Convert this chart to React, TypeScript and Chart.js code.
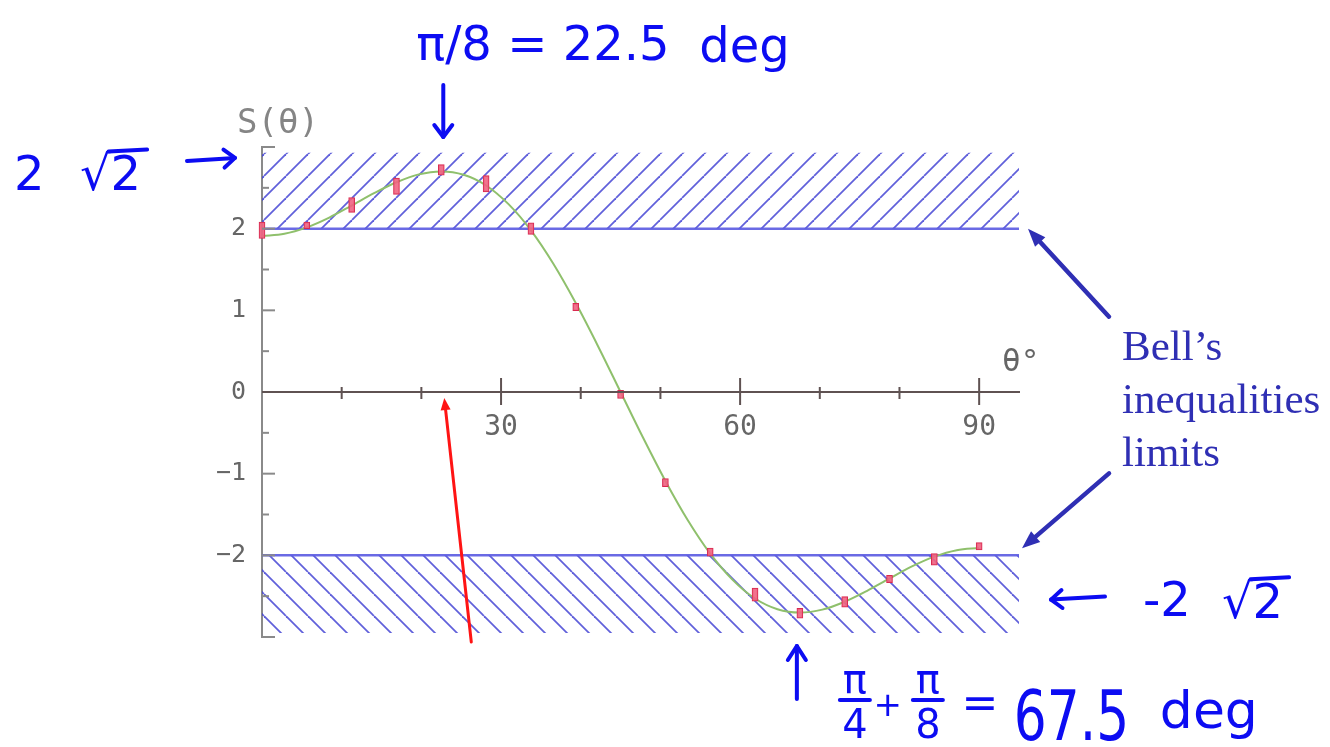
import React, { useEffect, useRef } from 'react';
import { Chart, registerables } from 'chart.js';

Chart.register(...registerables);

// ---------------- data ----------------
const ANGLES = [0, 5.625, 11.25, 16.875, 22.5, 28.125, 33.75, 39.375, 45, 50.625, 56.25, 61.875, 67.5, 73.125, 78.75, 84.375, 90];
const S_MEASURED = [1.98, 2.04, 2.29, 2.52, 2.72, 2.55, 2.0, 1.04, -0.03, -1.11, -1.96, -2.48, -2.71, -2.57, -2.29, -2.05, -1.89];
const S_ERROR = [0.1, 0.04, 0.09, 0.1, 0.065, 0.1, 0.07, 0.045, 0.05, 0.05, 0.05, 0.08, 0.06, 0.065, 0.045, 0.07, 0.045];

const CURVE_ANGLES = [0, 2.8125, 5.625, 8.4375, 11.25, 14.0625, 16.875, 19.6875, 22.5, 25.3125, 28.125, 30.9375, 33.75, 36.5625, 39.375, 42.1875, 45,
  47.8125, 50.625, 53.4375, 56.25, 59.0625, 61.875, 64.6875, 67.5, 70.3125, 73.125, 75.9375, 78.75, 81.5625, 84.375, 87.1875, 90];
const CURVE_S = [1.91, 1.937, 2.016, 2.136, 2.283, 2.434, 2.568, 2.665, 2.701, 2.66, 2.529, 2.3, 1.979, 1.57, 1.089, 0.558, 0,
  -0.558, -1.089, -1.57, -1.979, -2.3, -2.529, -2.66, -2.701, -2.665, -2.568, -2.434, -2.283, -2.136, -2.016, -1.937, -1.91];

const LIMIT_ANGLES = [0, 95];
const LIMIT_UPPER = [2, 2];
const LIMIT_LOWER = [-2, -2];
const HATCH_TOP = 2.93;
const HATCH_BOTTOM = -2.95;

const X_MIN = 0;
const X_MAX = 95;
const Y_MIN = -3;
const Y_MAX = 3;
const X_LABELED = [30, 60, 90];
const Y_LABELED = [-2, -1, 0, 1, 2];

// ---------------- styles ----------------
const AXIS_X_COLOR = '#5f5252';
const AXIS_Y_COLOR = '#8a8a8a';
const TICK_TEXT = '#666666';
const HATCH_COLOR = 'rgba(68,68,212,0.85)';
const LIMIT_COLOR = 'rgba(90,90,225,0.9)';
const CURVE_COLOR = '#8fc06c';
const INK = '#0c0cf2';
const BELL_COLOR = '#2f2fb4';
const MONO = '"DejaVu Sans Mono", "Liberation Mono", monospace';
const HAND = '"DejaVu Sans", "Noto Sans", sans-serif';

function makeHatch(ctx: CanvasRenderingContext2D, dir: 1 | -1): CanvasPattern | string {
  const s = 22;
  const c = document.createElement('canvas');
  c.width = s;
  c.height = s;
  const g = c.getContext('2d');
  if (!g) return HATCH_COLOR;
  g.strokeStyle = HATCH_COLOR;
  g.lineWidth = 1.8;
  for (const k of [-1, 0, 1]) {
    g.beginPath();
    if (dir === 1) {
      g.moveTo(k * s, s);
      g.lineTo(k * s + s, 0);
    } else {
      g.moveTo(k * s, 0);
      g.lineTo(k * s + s, s);
    }
    g.stroke();
  }
  return ctx.createPattern(c, 'repeat') || HATCH_COLOR;
}

function line(ctx: CanvasRenderingContext2D, x1: number, y1: number, x2: number, y2: number) {
  ctx.beginPath();
  ctx.moveTo(x1, y1);
  ctx.lineTo(x2, y2);
  ctx.stroke();
}

function arrow(ctx: CanvasRenderingContext2D, x1: number, y1: number, x2: number, y2: number,
  color: string, width: number, len: number, half: number, filled: boolean) {
  const a = Math.atan2(y2 - y1, x2 - x1);
  const bx = x2 - len * Math.cos(a);
  const by = y2 - len * Math.sin(a);
  const px = -Math.sin(a) * half;
  const py = Math.cos(a) * half;
  ctx.strokeStyle = color;
  ctx.fillStyle = color;
  ctx.lineWidth = width;
  ctx.lineCap = 'round';
  ctx.lineJoin = 'round';
  line(ctx, x1, y1, filled ? bx : x2, filled ? by : y2);
  ctx.beginPath();
  ctx.moveTo(bx + px, by + py);
  ctx.lineTo(x2, y2);
  ctx.lineTo(bx - px, by - py);
  if (filled) {
    ctx.closePath();
    ctx.fill();
  } else {
    ctx.stroke();
  }
}

function sqrtText(ctx: CanvasRenderingContext2D, x: number, y: number, size: number) {
  ctx.font = `${size}px ${HAND}`;
  ctx.textAlign = 'left';
  ctx.textBaseline = 'alphabetic';
  ctx.fillText('√2', x, y);
  const wr = ctx.measureText('√').width;
  const w2 = ctx.measureText('2').width;
  ctx.lineWidth = 4;
  ctx.lineCap = 'round';
  line(ctx, x + wr - 2, y - size * 0.8, x + wr + w2 + 6, y - size * 0.84);
}

function frac(ctx: CanvasRenderingContext2D, top: string, bottom: string, cx: number, barY: number, size: number) {
  ctx.font = `${size}px ${HAND}`;
  ctx.textAlign = 'center';
  ctx.textBaseline = 'alphabetic';
  ctx.fillText(top, cx, barY - 7);
  ctx.lineWidth = 4;
  line(ctx, cx - 15, barY, cx + 15, barY);
  ctx.fillText(bottom, cx, barY + size * 0.95);
}

const decorPlugin = {
  id: 'decor',
  afterDraw(chart: any) {
    const { ctx, chartArea, scales } = chart;
    const xs = scales.x;
    const ys = scales.y;
    ctx.save();

    // inward y ticks
    ctx.strokeStyle = AXIS_Y_COLOR;
    ctx.lineWidth = 2;
    ys.ticks.forEach((t: any) => {
      const py = ys.getPixelForValue(t.value);
      const major = Number.isInteger(t.value);
      line(ctx, chartArea.left, py, chartArea.left + (major ? 13 : 7), py);
    });

    // crossing x ticks
    const y0 = ys.getPixelForValue(0);
    ctx.strokeStyle = AXIS_X_COLOR;
    ctx.lineWidth = 2;
    line(ctx, chartArea.left, y0, chartArea.right, y0);
    xs.ticks.forEach((t: any) => {
      if (t.value === 0) return;
      const px = xs.getPixelForValue(t.value);
      const major = X_LABELED.includes(t.value);
      line(ctx, px, y0 - (major ? 14 : 5), px, y0 + (major ? 13 : 7));
    });

    // axis titles
    ctx.fillStyle = '#858585';
    ctx.font = `34px ${MONO}`;
    ctx.textAlign = 'left';
    ctx.textBaseline = 'alphabetic';
    ctx.fillText('S(θ)', chartArea.left - 25, chartArea.top - 14);
    ctx.fillStyle = TICK_TEXT;
    ctx.font = `31px ${MONO}`;
    ctx.fillText('θ°', chartArea.right - 17, y0 - 21);

    // Bell's text and arrows
    ctx.fillStyle = BELL_COLOR;
    ctx.font = `43px "Liberation Serif", "DejaVu Serif", serif`;
    const bx = chartArea.right + 103;
    ctx.fillText('Bell’s', bx, y0 - 32);
    ctx.fillText('inequalities', bx, y0 + 21);
    ctx.fillText('limits', bx, y0 + 74);
    const yTop = ys.getPixelForValue(2);
    const yBot = ys.getPixelForValue(-2);
    arrow(ctx, chartArea.right + 90, yTop + 88, chartArea.right + 9, yTop, BELL_COLOR, 4.5, 18, 7, true);
    arrow(ctx, chartArea.right + 90, yBot - 82, chartArea.right + 3, yBot - 7, BELL_COLOR, 4.5, 18, 7, true);

    // red arrow to 22.5 deg on the axis
    const x225 = xs.getPixelForValue(22.5);
    arrow(ctx, x225 + 30, chartArea.bottom + 5, x225 + 3, y0 + 6, '#ff1414', 3, 12, 5, true);

    // handwritten notes
    ctx.fillStyle = INK;
    ctx.strokeStyle = INK;
    ctx.font = `48px ${HAND}`;
    ctx.textAlign = 'left';
    ctx.fillText('π/8 = 22.5', x225 - 25, 60);
    ctx.fillText('deg', x225 + 258, 62);
    arrow(ctx, x225 + 2, chartArea.top - 62, x225 + 2, chartArea.top - 10, INK, 4, 12, 9, false);

    // 2√2 -->
    const y283 = ys.getPixelForValue(2.83);
    ctx.font = `48px ${HAND}`;
    ctx.fillText('2', 14, y283 + 29);
    sqrtText(ctx, 80, y283 + 29, 48);
    arrow(ctx, chartArea.left - 75, y283, chartArea.left - 27, y283 - 3, INK, 4, 11, 9, false);

    // <-- -2√2
    const yNeg = ys.getPixelForValue(-2.53);
    arrow(ctx, chartArea.right + 86, yNeg - 2, chartArea.right + 32, yNeg + 1, INK, 4, 11, 9, false);
    ctx.font = `48px ${HAND}`;
    ctx.textAlign = 'left';
    ctx.fillText('-2', chartArea.right + 124, yNeg + 17);
    sqrtText(ctx, chartArea.right + 203, yNeg + 19, 48);

    // up arrow at 67.5 and formula
    const x675 = xs.getPixelForValue(67.5);
    arrow(ctx, x675 - 3, chartArea.bottom + 62, x675 - 3, chartArea.bottom + 9, INK, 4, 14, 9, false);
    frac(ctx, 'π', '4', x675 + 55, 700, 40);
    ctx.font = `34px ${HAND}`;
    ctx.textAlign = 'center';
    ctx.fillText('+', x675 + 88, 716);
    frac(ctx, 'π', '8', x675 + 128, 700, 40);
    ctx.font = `44px ${HAND}`;
    ctx.fillText('=', x675 + 180, 718);
    ctx.save();
    ctx.translate(x675 + 214, 740);
    ctx.scale(0.74, 1);
    ctx.font = `70px ${HAND}`;
    ctx.textAlign = 'left';
    ctx.fillText('67.5', 0, 0);
    ctx.restore();
    ctx.font = `52px ${HAND}`;
    ctx.textAlign = 'left';
    ctx.fillText('deg', x675 + 360, 728);

    ctx.restore();
  },
};

export default function App() {
  const canvasRef = useRef<HTMLCanvasElement | null>(null);

  useEffect(() => {
    const canvas = canvasRef.current;
    if (!canvas) return;
    const ctx = canvas.getContext('2d');
    if (!ctx) return;

    const hatchUp = makeHatch(ctx, 1);
    const hatchDown = makeHatch(ctx, -1);

    const errorBars = ANGLES.map((a, i) => ({ x: a, y: [S_MEASURED[i] - S_ERROR[i], S_MEASURED[i] + S_ERROR[i]] }));
    const curve = CURVE_ANGLES.map((a, i) => ({ x: a, y: CURVE_S[i] }));
    const upper = LIMIT_ANGLES.map((a, i) => ({ x: a, y: LIMIT_UPPER[i] }));
    const lower = LIMIT_ANGLES.map((a, i) => ({ x: a, y: LIMIT_LOWER[i] }));

    const chart = new Chart(ctx, {
      type: 'line',
      data: {
        datasets: [
          {
            type: 'bar',
            label: 'measured',
            data: errorBars as any,
            backgroundColor: 'rgba(240,100,130,0.9)',
            borderColor: '#d82a50',
            borderWidth: 1,
            borderSkipped: false,
            barThickness: 6,
            order: 0,
            clip: false as any,
          },
          {
            type: 'line',
            label: 'curve',
            data: curve as any,
            borderColor: CURVE_COLOR,
            borderWidth: 2,
            pointRadius: 0,
            cubicInterpolationMode: 'monotone',
            fill: false,
            order: 1,
          },
          {
            type: 'line',
            label: 'upper limit',
            data: upper as any,
            borderColor: LIMIT_COLOR,
            borderWidth: 2.5,
            pointRadius: 0,
            fill: { value: HATCH_TOP } as any,
            backgroundColor: hatchUp as any,
            order: 2,
          },
          {
            type: 'line',
            label: 'lower limit',
            data: lower as any,
            borderColor: LIMIT_COLOR,
            borderWidth: 2.5,
            pointRadius: 0,
            fill: { value: HATCH_BOTTOM } as any,
            backgroundColor: hatchDown as any,
            order: 2,
          },
        ],
      },
      options: {
        responsive: false,
        animation: false,
        devicePixelRatio: 1,
        events: [],
        layout: { padding: { left: 0, top: 147, right: 311, bottom: 110 } },
        plugins: {
          legend: { display: false },
          tooltip: { enabled: false },
        },
        scales: {
          x: {
            type: 'linear',
            position: { y: 0 } as any,
            min: X_MIN,
            max: X_MAX,
            offset: false,
            grid: { display: false, drawTicks: false },
            border: { display: true, color: AXIS_X_COLOR, width: 2 },
            ticks: {
              stepSize: 10,
              includeBounds: false,
              autoSkip: false,
              maxRotation: 0,
              padding: 19,
              color: TICK_TEXT,
              font: { family: MONO, size: 28 },
              callback: (v: any) => (X_LABELED.includes(Number(v)) ? String(v) : ''),
            },
          },
          y: {
            type: 'linear',
            position: 'left',
            min: Y_MIN,
            max: Y_MAX,
            beginAtZero: false,
            grid: { display: false, drawTicks: false },
            border: { display: true, color: AXIS_Y_COLOR, width: 2 },
            ticks: {
              stepSize: 0.5,
              autoSkip: false,
              padding: 16,
              color: TICK_TEXT,
              font: { family: MONO, size: 25 },
              callback: (v: any) => {
                const n = Number(v);
                if (!Y_LABELED.includes(n)) return '';
                return n < 0 ? '−' + String(-n) : String(n);
              },
            },
            afterFit: (scale: any) => {
              scale.width = 262;
            },
          },
        },
      },
      plugins: [decorPlugin],
    });

    return () => chart.destroy();
  }, []);

  return (
    <div style={{ position: 'fixed', left: 0, top: 0, width: 1330, height: 747, background: '#fff' }}>
      <canvas ref={canvasRef} width={1330} height={747} style={{ width: 1330, height: 747, display: 'block' }} />
    </div>
  );
}
